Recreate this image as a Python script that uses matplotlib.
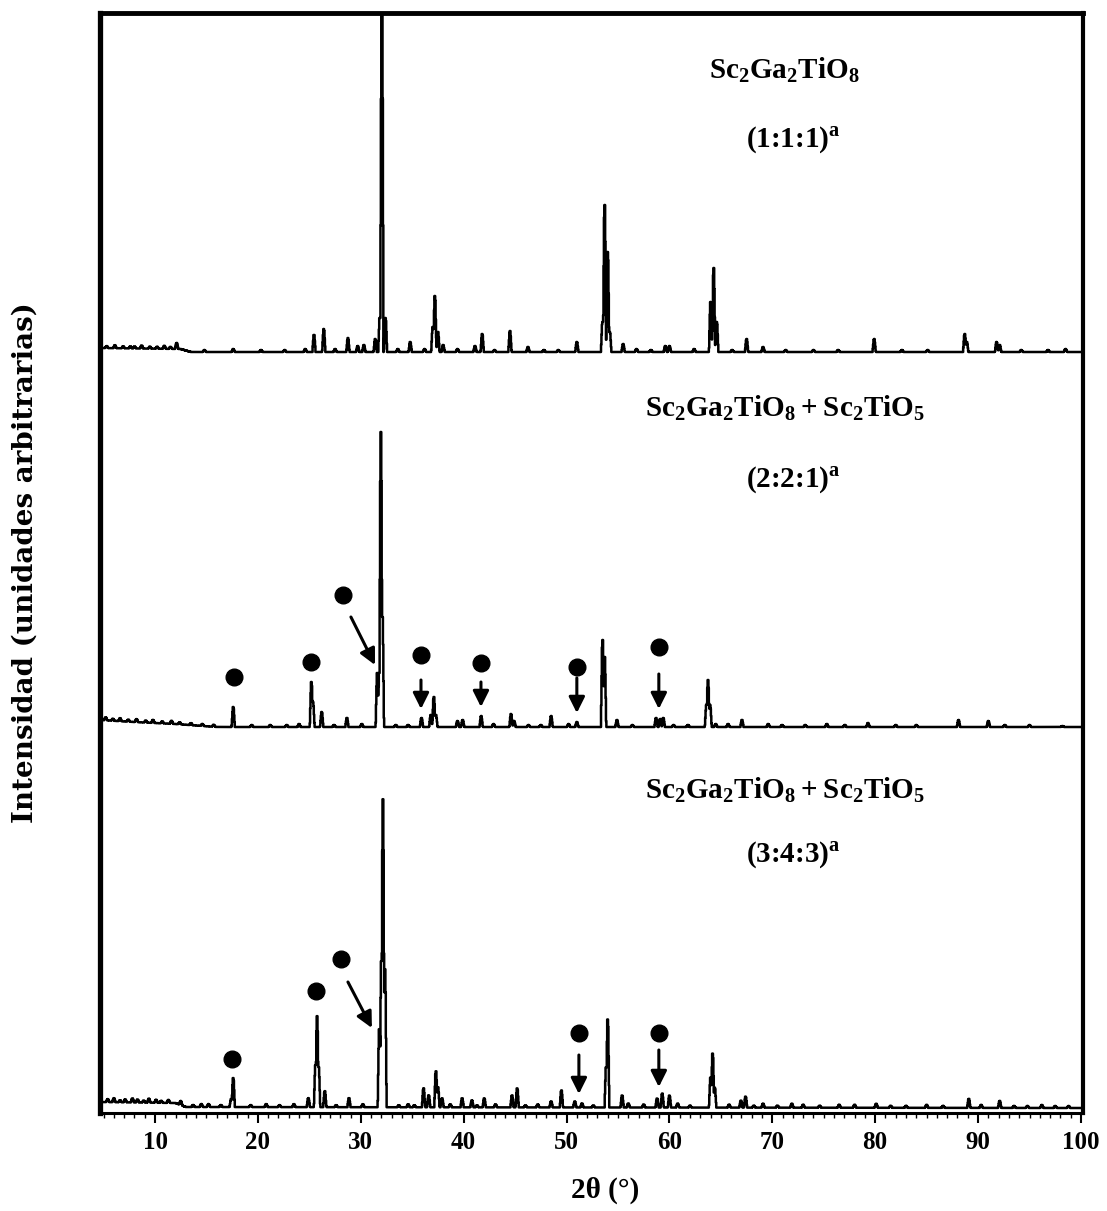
import numpy as np
import matplotlib
matplotlib.use("Agg")
import matplotlib.pyplot as plt
from matplotlib.ticker import MultipleLocator

plt.rcParams['mathtext.fontset'] = 'custom'
plt.rcParams['mathtext.rm'] = 'Liberation Serif'
plt.rcParams['mathtext.bf'] = 'Liberation Serif:bold'

top_pos = [8.0, 9.5, 12.1, 17.6, 24.6, 25.45, 26.4, 28.75, 29.7, 30.3, 31.4,
           31.85, 32.05, 32.4, 34.8, 36.2, 37.0, 37.2, 37.5, 38.0, 41.1, 41.8,
           44.5, 46.25, 51.0, 53.5, 53.7, 54.0, 54.2, 55.5, 59.6, 60.0, 62.4,
           64.0, 64.3, 64.6, 67.5, 69.1, 79.9, 88.7, 88.9, 91.8, 92.1]
top_h = [2, 2, 6, 3, 3, 17, 23, 14, 6, 7, 13,
         34, 380, 34, 10, 3, 25, 56, 20, 7, 6, 18,
         21, 5, 10, 30, 147, 100, 20, 8, 6, 6, 3,
         50, 84, 30, 13, 5, 13, 18, 10, 10, 7]
top_noise = [5.3, 6.1, 6.9, 7.6, 8.7, 10.2, 10.9, 11.5, 14.8, 20.3, 22.6,
             27.5, 33.6, 39.4, 43.0, 47.8, 49.2, 56.8, 58.2, 66.1, 71.3, 74.0,
             76.4, 82.6, 85.1, 94.2, 96.8, 98.5]
top_noise_h = [2, 3, 2, 2, 3, 2, 3, 2, 2, 2, 2,
               3, 3, 3, 2, 2, 2, 3, 2, 2, 2, 2,
               2, 2, 2, 2, 2, 3]
top_bg_x = [4.65, 12.5, 13.5, 100.2]
top_bg_y = [4, 3, 0, 0]

mid_pos = [17.6, 25.2, 25.35, 26.2, 28.65, 31.6, 31.8, 31.95, 32.1, 35.9,
           36.8, 37.1, 37.3, 39.4, 39.9, 41.7, 44.6, 44.9, 48.5, 51.0, 53.5,
           53.7, 54.9, 58.7, 59.1, 59.4, 60.4, 63.6, 63.75, 63.95, 64.5, 67.05,
           69.6, 70.95, 75.3, 77.05, 79.3, 88.1, 91.0, 92.6, 98.2]
mid_h = [20, 45, 25, 15, 9, 54, 54, 295, 110, 9,
         12, 30, 12, 6, 7, 11, 13, 6, 11, 5, 87,
         70, 7, 9, 8, 9, 2, 22, 47, 22, 3, 7,
         3, 2, 3, 2, 4, 7, 6, 2, 1]
mid_noise = [5.2, 5.9, 6.6, 7.4, 8.2, 9.1, 9.8, 10.7, 11.6, 12.4, 13.5,
             14.6, 15.7, 19.4, 21.2, 22.8, 24.0, 27.4, 30.1, 33.4, 34.6,
             42.9, 46.3, 47.5, 50.2, 56.4, 61.8, 65.7, 73.2, 82.0, 84.0, 95.0]
mid_noise_h = [3, 2, 3, 2, 3, 2, 3, 2, 3, 2, 2,
               2, 2, 2, 2, 2, 3, 2, 3, 2, 2,
               3, 2, 2, 3, 2, 2, 3, 2, 2, 2, 2]
mid_bg_x = [4.65, 8.0, 12.0, 16.0, 100.2]
mid_bg_y = [7, 5, 3, 0, 0]

bot_pos = [12.5, 17.4, 17.6, 24.9, 25.6, 25.75, 25.9, 26.5, 28.85, 31.8,
           32.0, 32.15, 32.35, 36.1, 36.6, 37.3, 37.5, 37.9, 39.85, 40.8,
           42.0, 44.7, 45.2, 48.5, 49.5, 50.8, 51.5, 53.85, 54.0, 55.4, 56.0,
           58.8, 59.3, 60.0, 60.8, 64.0, 64.2, 64.4, 66.95, 67.4, 69.1, 71.9,
           76.5, 80.1, 89.1, 92.1]
bot_h = [4, 8, 29, 9, 42, 91, 40, 16, 9, 78,
         146, 308, 138, 19, 12, 36, 20, 9, 9, 7,
         9, 12, 19, 6, 17, 6, 4, 40, 88, 12, 4,
         9, 14, 12, 4, 30, 54, 20, 7, 11, 4, 4,
         3, 4, 9, 7]
bot_noise = [5.4, 6.0, 6.6, 7.1, 7.8, 8.3, 8.9, 9.4, 10.1, 10.6, 11.3,
             13.7, 14.5, 15.2, 16.4, 19.3, 20.8, 22.1, 23.5, 27.6, 30.2,
             33.7, 34.6, 35.2, 38.7, 41.3, 43.1, 46.0, 47.2, 52.6, 57.5,
             62.0, 65.8, 68.2, 70.5, 73.0, 74.6, 78.0, 81.5, 83.0, 85.0,
             86.6, 90.3, 93.5, 94.8, 96.2, 97.5, 98.8]
bot_noise_h = [3, 4, 2, 3, 4, 3, 2, 4, 3, 2, 3,
               2, 3, 3, 2, 2, 3, 2, 3, 2, 3,
               2, 3, 2, 3, 2, 3, 2, 3, 2, 3,
               2, 3, 2, 2, 3, 2, 3, 2, 2, 3,
               2, 3, 2, 2, 3, 2, 2]
bot_bg_x = [4.65, 12.0, 13.0, 100.2]
bot_bg_y = [6, 5, 1, 0]

offsets = [761, 386, 5]

etiquetas = [r'$\mathbf{Sc_2Ga_2TiO_8}$',
             r'$\mathbf{Sc_2Ga_2TiO_8 + Sc_2TiO_5}$',
             r'$\mathbf{Sc_2Ga_2TiO_8 + Sc_2TiO_5}$']
relaciones = [r'(1:1:1)$^{\mathbf{a}}$', r'(2:2:1)$^{\mathbf{a}}$',
              r'(3:4:3)$^{\mathbf{a}}$']

# marcas de Sc2TiO5: puntos y flechas (x, y en coordenadas de datos)
mid_dots_x = [17.67, 25.15, 28.27, 35.85, 41.68, 51.0, 58.97]
mid_dots_y = [436, 451, 518, 458, 450, 446, 466]
mid_arrows = [((29.04, 496), (31.38, 448)), ((35.85, 433), (35.85, 404)),
              ((41.68, 431), (41.68, 406)), ((51.0, 435), (51.0, 400)),
              ((58.97, 439), (58.97, 404))]
bot_dots_x = [17.48, 25.64, 28.07, 51.2, 58.97]
bot_dots_y = [54, 122, 154, 80, 80]
bot_arrows = [((28.75, 131), (31.08, 85)), ((51.2, 58), (51.2, 19)),
              ((58.97, 63), (58.97, 26))]


def traza(x, pos, alt, bgx, bgy, ruido_pos, ruido_h):
    picos = np.zeros_like(x)
    for p, h in list(zip(pos, alt)) + list(zip(ruido_pos, ruido_h)):
        forma = np.clip((0.16 - np.abs(x - p)) / 0.12, 0, 1) * h
        picos = np.maximum(picos, forma)
    return np.interp(x, bgx, bgy) + picos


fig = plt.figure(figsize=(11.07, 12.11), dpi=100)
ax = fig.add_axes([100 / 1107, 1 - 1113 / 1211, 983 / 1107, 1100 / 1211])

x = np.arange(4.65, 100.2, 0.04)
y_top = traza(x, top_pos, top_h, top_bg_x, top_bg_y, top_noise, top_noise_h)
y_mid = traza(x, mid_pos, mid_h, mid_bg_x, mid_bg_y, mid_noise, mid_noise_h)
y_bot = traza(x, bot_pos, bot_h, bot_bg_x, bot_bg_y, bot_noise, bot_noise_h)

for yy, off in zip([y_top, y_mid, y_bot], offsets):
    ax.plot(x, yy + off, color='k', lw=1.8, drawstyle='steps-mid')

ax.plot(mid_dots_x, mid_dots_y, 'o', color='k', ms=12)
ax.plot(bot_dots_x, bot_dots_y, 'o', color='k', ms=12)
for a, b in mid_arrows + bot_arrows:
    ax.annotate('', xy=b, xytext=a,
                arrowprops=dict(arrowstyle='-|>', lw=2.2, color='k',
                                mutation_scale=24, shrinkA=0, shrinkB=0))

texto_y = [1043, 705, 323]
rel_y = [973, 633, 258]
for et, rel, ty, ry in zip(etiquetas, relaciones, texto_y, rel_y):
    ax.text(71.2, ty, et, ha='center', va='center', fontsize=21,
            family='Liberation Serif', weight='bold')
    ax.text(72.0, ry, rel, ha='center', va='center', fontsize=21,
            family='Liberation Serif', weight='bold')

ax.set_xlim(4.65, 100.2)
ax.set_ylim(0, 1100)
ax.set_yticks([])
ax.xaxis.set_major_locator(MultipleLocator(10))
ax.xaxis.set_minor_locator(MultipleLocator(1))
ax.tick_params(axis='x', which='major', direction='out', length=7, width=1.5,
               pad=6)
ax.tick_params(axis='x', which='minor', direction='out', length=3.5, width=1)
ax.set_xticks(range(10, 101, 10))
for lab in ax.get_xticklabels():
    lab.set_family('Liberation Serif')
    lab.set_weight('bold')
    lab.set_fontsize(18)

ax.spines['left'].set_linewidth(3.8)
ax.spines['top'].set_linewidth(3.5)
ax.spines['right'].set_linewidth(3.0)
ax.spines['bottom'].set_linewidth(2.2)

ax.set_xlabel('2θ (°)', family='Liberation Serif', weight='bold', fontsize=21)
ax.xaxis.set_label_coords(0.514, -0.058)
ax.set_ylabel('Intensidad (unidades arbitrarias)', family='DejaVu Serif',
              weight='bold', fontsize=20)
ax.yaxis.set_label_coords(-0.062, 0.5)

fig.savefig('out.png', dpi=100)
